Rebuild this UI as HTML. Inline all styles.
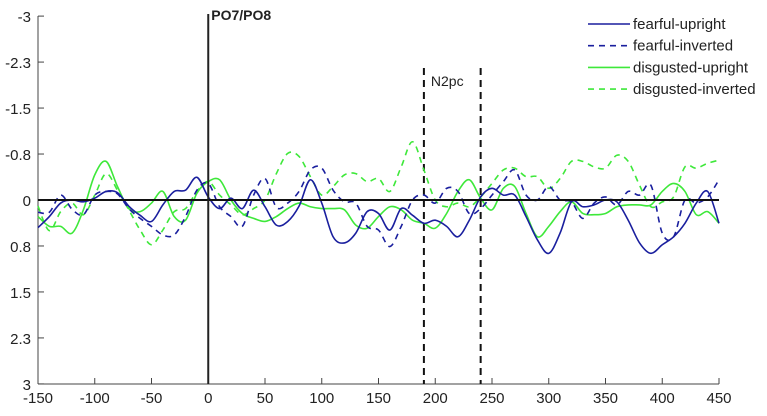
<!DOCTYPE html>
<html><head><meta charset="utf-8"><style>
body{margin:0;background:#fff}
svg text{font-family:"Liberation Sans",sans-serif;fill:#222}
</style></head><body>
<svg id="c" width="767" height="411"></svg>
<script>
const times=[];for(let t=-150;t<=450;t+=10)times.push(t);
const fearfulUpright=[.45,.27,.05,0,.03,-.03,-.14,-.12,.1,.25,.35,.08,-.14,-.16,-.37,-.05,.14,-.03,.14,-.16,.11,.41,.35,.1,-.33,.05,.6,.7,.54,.19,.22,.49,.14,.25,.38,.33,.43,.6,.33,-.05,-.19,-.08,-.08,.27,.65,.87,.54,.03,.11,.08,0,.03,.33,.7,.87,.73,.6,.38,.05,-.14,.38];
const fearfulInverted=[.2,.2,-.08,.15,.24,-.08,-.14,-.1,.14,.3,.43,.57,.57,.27,-.16,-.27,.11,.27,.43,-.08,-.35,.12,.05,-.14,-.49,-.52,-.16,.03,.05,.43,.49,.76,.43,0,-.08,.05,-.19,-.14,.22,.14,-.08,-.3,-.49,-.08,0,-.22,0,.03,.3,.05,-.05,.08,-.14,-.08,-.24,.54,.6,0,.05,-.05,-.33];
const disgustedUpright=[.27,.43,.43,.54,.16,-.41,-.63,-.22,.14,.19,.05,-.14,.27,.33,-.11,-.3,-.33,0,.22,.3,.35,.27,.14,.05,.11,.14,.14,.16,.41,.46,.27,.11,.16,.33,.38,.46,.22,-.14,-.33,-.03,.16,-.19,-.22,.22,.6,.43,.19,.03,.22,.24,.22,.11,.08,.08,.08,-.14,-.27,-.14,.24,.19,.38];
const disgustedInverted=[.1,.5,.19,.05,.24,-.08,-.43,-.16,.16,.49,.73,.49,.19,.14,-.14,-.3,-.08,.08,.24,.14,0,-.43,-.76,-.71,-.38,-.08,-.22,-.41,-.43,-.3,-.35,-.14,-.54,-.95,-.49,0,.11,.05,.11,-.05,-.27,-.49,-.52,-.38,-.38,-.19,-.35,-.63,-.63,-.54,-.52,-.73,-.63,-.24,.11,.03,-.05,-.54,-.52,-.6,-.65];
const xTicks=[-150,-100,-50,0,50,100,150,200,250,300,350,400,450];
const yTicks=[-3,-2.25,-1.5,-0.75,0,0.75,1.5,2.25,3];
const yTickLabels=["-3","-2.3","-1.5","-0.8","0","0.8","1.5","2.3","3"];
const windowBounds=[190,240];
const NS="http://www.w3.org/2000/svg",svg=document.getElementById('c');
const X=t=>38+(t+150)*(719-38)/600, Y=v=>200+v*61.3;
function el(tag,attrs,parent){const e=document.createElementNS(NS,tag);for(const k in attrs)e.setAttribute(k,attrs[k]);(parent||svg).appendChild(e);return e;}
let a=el('line',{x1:38,y1:16,x2:38,y2:384,stroke:'#444','stroke-width':1});


a=el('line',{x1:38,y1:384,x2:719,y2:384,stroke:'#444','stroke-width':1});


xTicks.forEach(t=>{
 el('line',{x1:X(t),y1:384,x2:X(t),y2:378,stroke:'#444'});
 const tx=el('text',{x:X(t),y:403,'text-anchor':'middle','font-size':15});tx.textContent=t;
 
 
});
yTicks.forEach((v,i)=>{
 el('line',{x1:38,y1:Y(v),x2:44,y2:Y(v),stroke:'#444'});
 const tx=el('text',{x:31,y:Y(v)+6,'text-anchor':'end','font-size':15});tx.textContent=yTickLabels[i];
 
 
});
windowBounds.forEach(t=>{
 const l=el('line',{x1:X(t),y1:68,x2:X(t),y2:384,stroke:'#111','stroke-width':2,'stroke-dasharray':'7,5'});
 
 
});
let n=el('text',{x:X(190)+7,y:86,'font-size':14});n.textContent='N2pc';


function path(vals){const p=vals.map((v,i)=>[X(times[i]),Y(v)]);let d='M'+p[0][0]+','+p[0][1];
 for(let i=0;i<p.length-1;i++){const p0=p[Math.max(0,i-1)],p1=p[i],p2=p[i+1],p3=p[Math.min(p.length-1,i+2)];
 d+=' C'+(p1[0]+(p2[0]-p0[0])/6)+','+(p1[1]+(p2[1]-p0[1])/6)+' '+(p2[0]-(p3[0]-p1[0])/6)+','+(p2[1]-(p3[1]-p1[1])/6)+' '+p2[0]+','+p2[1];}return d;}
const series=[[disgustedInverted,'#3ee83a','6,5','series-disgusted-inverted'],[disgustedUpright,'#3ee83a','','series-disgusted-upright'],[fearfulInverted,'#1a1f9e','6,5','series-fearful-inverted'],[fearfulUpright,'#1a1f9e','','series-fearful-upright']];
series.forEach(s=>{
 const p=el('path',{d:path(s[0]),fill:'none',stroke:s[1],'stroke-width':1.6,'stroke-dasharray':s[2]});
 
 
});
let z=el('line',{x1:38,y1:200,x2:719,y2:200,stroke:'#111','stroke-width':2});


let v0=el('line',{x1:X(0),y1:14,x2:X(0),y2:384,stroke:'#222','stroke-width':2});


let tt=el('text',{x:X(0)+3,y:20,'font-size':14,'font-weight':'bold'});tt.textContent='PO7/PO8';


const legendNames=['fearful-upright','fearful-inverted','disgusted-upright','disgusted-inverted'];
const legStyle=[['#1a1f9e',''],['#1a1f9e','6,5'],['#3ee83a',''],['#3ee83a','6,5']];
legendNames.forEach((nm,i)=>{
 const g=el('g',{});
 
 
 const y=24+i*21.7;
 el('line',{x1:588,y1:y,x2:630,y2:y,stroke:legStyle[i][0],'stroke-width':1.6,'stroke-dasharray':legStyle[i][1]},g);
 const t=el('text',{x:633,y:y+5,'font-size':15},g);t.textContent=nm;
});
</script>
</body></html>
